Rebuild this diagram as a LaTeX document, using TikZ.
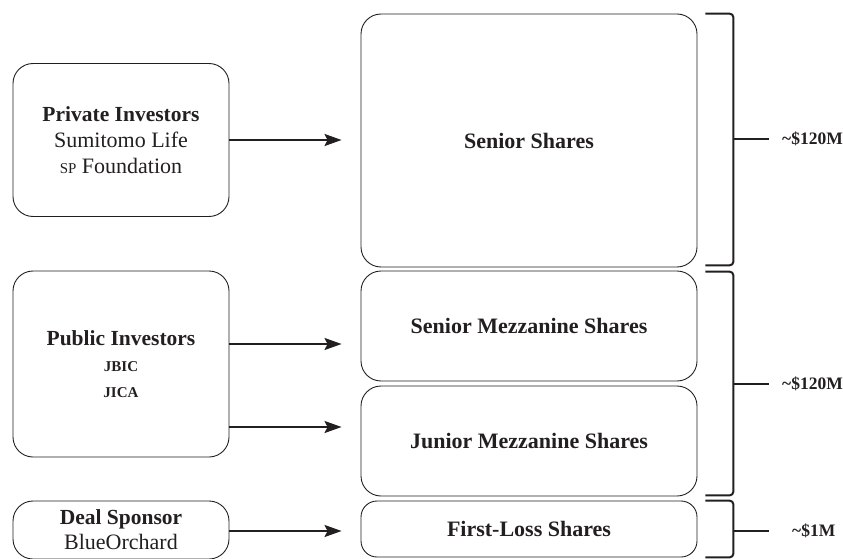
\documentclass[tikz,border=0pt]{standalone}
\usepackage{fontspec}
\setmainfont{Liberation Serif}
\usetikzlibrary{arrows.meta,calc}
\definecolor{ink}{HTML}{231F20}
\tikzset{
  box/.style={draw=ink, line width=0.9pt, rounded corners=20pt, inner sep=0pt, align=center, text=ink,
    font=\fontsize{22}{26}\selectfont},
  arr/.style={draw=ink, line width=2pt, -{Stealth[length=17pt,width=12pt,inset=3pt]}},
  brk/.style={draw=ink, line width=2pt, rounded corners=4pt},
  tick/.style={draw=ink, line width=2pt},
  lbl/.style={text=ink, font=\fontsize{17.5}{18}\selectfont\bfseries, inner sep=0pt},
  big/.style={font=\fontsize{22}{24}\selectfont\bfseries},
}
\newcommand{\smc}[1]{{\fontsize{15}{26}\selectfont #1}}
\newcommand{\hdr}[1]{{\fontsize{21.5}{26}\selectfont\bfseries #1}}
\begin{document}
\begin{tikzpicture}[x=1pt,y=-1pt]
\useasboundingbox (0,0) rectangle (843,559);
% left boxes
\node[box, minimum width=216pt, minimum height=153pt] (priv) at (121,140)
  {\hdr{Private Investors}\\Sumitomo Life\\\smc{SP} Foundation};
\node[box, minimum width=216pt, minimum height=186pt] (pub) at (121,364)
  {\hdr{Public Investors}\\\smc{\bfseries JBIC}\\\smc{\bfseries JICA}};
\node[box, minimum width=216pt, minimum height=58pt] (deal) at (121,530)
  {\hdr{Deal Sponsor}\\[-1pt]BlueOrchard};
% share boxes
\node[box, big, minimum width=336pt, minimum height=253pt] (sen) at (529,140.5) {Senior Shares};
\node[box, big, minimum width=336pt, minimum height=110pt] (smz) at (529,326) {Senior Mezzanine Shares};
\node[box, big, minimum width=336pt, minimum height=110pt] (jmz) at (529,441) {Junior Mezzanine Shares};
\node[box, big, minimum width=336pt, minimum height=56pt, rounded corners=16pt] (fl) at (529,529) {First-Loss Shares};
% arrows
\coordinate (a1) at (0,140);
\coordinate (a2) at (0,344);
\coordinate (a3) at (0,427);
\coordinate (a4) at (0,531);
\draw[arr, shorten >=19pt] (priv.east |- a1) -- (sen.west |- a1);
\draw[arr, shorten >=19pt] (pub.east |- a2) -- (smz.west |- a2);
\draw[arr, shorten >=19pt] (pub.east |- a3) -- (jmz.west |- a3);
\draw[arr, shorten >=19pt] (deal.east |- a4) -- (fl.west |- a4);
% brackets
\draw[brk] ($(sen.north east)+(8,0)$) -- ++(28,0) -- ($(sen.south east)+(36,-2)$) -- ++(-28,0);
\draw[brk] ($(smz.north east)+(8,1)$) -- ++(28,0) -- ($(jmz.south east)+(36,-1)$) -- ++(-28,0);
\draw[brk] ($(fl.north east)+(8,0)$) -- ++(28,0) -- ($(fl.south east)+(36,0)$) -- ++(-28,0);
% ticks and labels
\node[lbl, anchor=west] (l1) at (782,139) {\textasciitilde\$120M};
\node[lbl, anchor=west] (l2) at (782,384) {\textasciitilde\$120M};
\node[lbl, anchor=west] (l3) at (792,531) {\textasciitilde\$1M};
\draw[tick] ($(sen.east |- l1)+(36,0)$) -- ($(l1.west)+(-13,0)$);
\draw[tick] ($(smz.east |- l2)+(36,0)$) -- ($(l2.west)+(-13,0)$);
\draw[tick] ($(fl.east |- l3)+(36,0)$) -- ($(l3.west)+(-23,0)$);
\end{tikzpicture}
\end{document}
